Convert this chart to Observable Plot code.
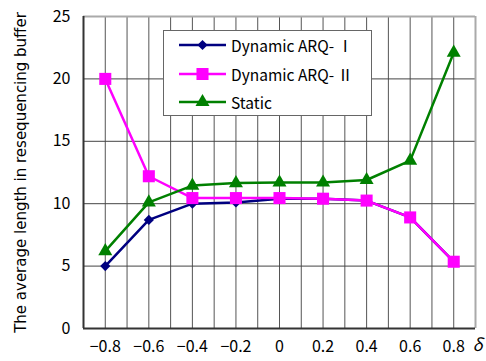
<!DOCTYPE html>
<html>
<head>
<meta charset="utf-8">
<script src="https://cdn.jsdelivr.net/npm/d3@7"></script>
<script src="https://cdn.jsdelivr.net/npm/@observablehq/plot@0.6"></script>
<style>
  html, body { margin: 0; padding: 0; background: #fff; }
  #wrap { position: relative; width: 486px; height: 361px; font-family: "Noto Sans CJK JP", sans-serif; }
  #legend { position: absolute; left: 163px; top: 30px; width: 209px; height: 86px; background: #fff; border: 1px solid #666; box-sizing: border-box; }
  .row { position: absolute; left: 0; height: 20px; display: flex; align-items: center; }
  .row svg { display: block; }
  .row span { font-size: 15.5px; color: #000; margin-left: 2px; white-space: nowrap; font-family: "Noto Sans CJK JP", sans-serif; }
</style>
</head>
<body>
<div id="wrap"></div>
<script>
const deltas = [-0.8, -0.6, -0.4, -0.2, 0, 0.2, 0.4, 0.6, 0.8];
const arq1   = [5.0, 8.7, 10.0, 10.1, 10.4, 10.4, 10.25, 8.9, 5.35];
const arq2   = [20.0, 12.2, 10.45, 10.45, 10.45, 10.4, 10.25, 8.9, 5.35];
const stat   = [6.2, 10.1, 11.45, 11.65, 11.7, 11.7, 11.9, 13.45, 22.1];
const seriesNames = ["Dynamic ARQ- Ⅰ", "Dynamic ARQ- Ⅱ", "Static"];
const yTicks = [0, 5, 10, 15, 20, 25];
const xGrid = [-0.8, -0.7, -0.6, -0.5, -0.4, -0.3, -0.2, -0.1, 0, 0.1, 0.2, 0.3, 0.4, 0.5, 0.6, 0.7, 0.8];
const xDomain = [-0.9, 0.9];
const yLabel = "The average length in resequencing buffer";
const xLabel = "δ";

const colors = ["#000080", "#ff00ff", "#008000"];
const symbols = ["diamond2", "square", "triangle"];
const radii = [4.6, 6.8, 5.2];
const values = [arq1, arq2, stat];

const rows = [];
values.forEach((vals, s) => deltas.forEach((d, i) => rows.push({series: seriesNames[s], s, x: d, y: vals[i]})));

const marks = [
  Plot.ruleX(xGrid, {stroke: "#555", strokeWidth: 1}),
  Plot.ruleY(yTicks.filter(v => v > 0 && v < 25), {stroke: "#444", strokeWidth: 1}),
  Plot.ruleY([25], {stroke: "#aaa", strokeWidth: 2}),
  Plot.ruleX([xDomain[1]], {stroke: "#aaa", strokeWidth: 2}),
  Plot.ruleY([0], {stroke: "#333", strokeWidth: 2}),
  Plot.ruleX([xDomain[0]], {stroke: "#333", strokeWidth: 2}),
  Plot.axisY({ticks: yTicks, tickSize: 0, tickPadding: 13, fontSize: 16, label: yLabel, labelAnchor: "center", labelArrow: "none", labelOffset: 68}),
  Plot.axisX({ticks: deltas, tickSize: 0, tickPadding: 12, fontSize: 16, label: null,
    tickFormat: d => d === 0 ? "0" : d.toFixed(1).replace("-", "−")}),
  Plot.text([xLabel], {frameAnchor: "bottom-right", dx: 7, dy: 22, fontSize: 17, fontStyle: "italic", fill: "#000", text: d => d})
];
values.forEach((vals, s) => {
  const data = rows.filter(r => r.s === s);
  marks.push(Plot.line(data, {x: "x", y: "y", stroke: colors[s], strokeWidth: 2.5}));
  marks.push(Plot.dot(data, {x: "x", y: "y", symbol: symbols[s], r: radii[s], fill: colors[s], stroke: "none"}));
});

const chart = Plot.plot({
  width: 486,
  height: 361,
  marginLeft: 83,
  marginRight: 11,
  marginTop: 16,
  marginBottom: 33,
  style: {fontFamily: "'Noto Sans CJK JP', sans-serif", fontSize: "16px", color: "#000", background: "#fff"},
  x: {domain: xDomain},
  y: {domain: [0, 25]},
  marks
});
const wrap = document.getElementById("wrap");
wrap.appendChild(chart);
// y label font
d3.select(chart).selectAll("[aria-label='y-axis label'] text")
  .attr("font-size", 15).attr("font-family", "'DejaVu Sans', sans-serif");

// legend overlay
const legend = document.createElement("div");
legend.id = "legend";
const rowTops = [4, 33, 61];
seriesNames.forEach((name, s) => {
  const row = document.createElement("div");
  row.className = "row";
  row.style.top = rowTops[s] + "px";
  row.style.left = "15px";
  const svg = d3.create("svg").attr("width", 50).attr("height", 20);
  svg.append("line").attr("x1", 0).attr("x2", 47).attr("y1", 10).attr("y2", 10)
    .attr("stroke", colors[s]).attr("stroke-width", 2.5);
  const symMap = {diamond2: d3.symbolDiamond2, square: d3.symbolSquare, triangle: d3.symbolTriangle};
  svg.append("path").attr("transform", "translate(23.5,10)")
    .attr("d", d3.symbol(symMap[symbols[s]], Math.PI * radii[s] * radii[s])())
    .attr("fill", colors[s]);
  row.appendChild(svg.node());
  const span = document.createElement("span");
  span.textContent = name;
  row.appendChild(span);
  legend.appendChild(row);
});
wrap.appendChild(legend);
</script>
</body>
</html>
